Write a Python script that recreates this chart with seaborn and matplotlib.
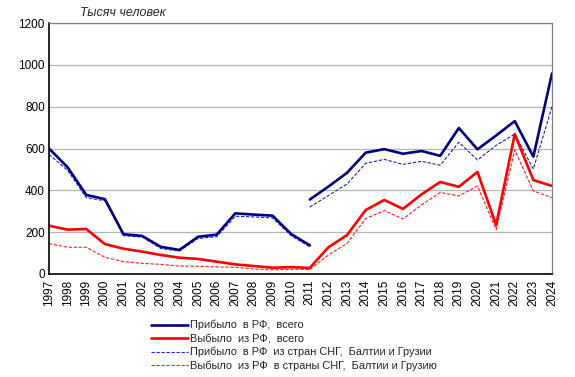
import matplotlib
matplotlib.use("Agg")

import matplotlib.pyplot as plt
import seaborn as sns
from matplotlib.lines import Line2D

# years, old methodology (to 2011) and new methodology (from 2011)
years_old = list(range(1997, 2012))
years_new = list(range(2011, 2025))

arrived_old = [600, 510, 378, 358, 190, 182, 130, 115, 178, 188, 290, 284, 279, 191, 137]
arrived_cis_old = [572, 495, 365, 350, 183, 177, 122, 110, 170, 178, 276, 273, 268, 183, 130]
left_old = [231, 212, 215, 143, 121, 107, 91, 78, 72, 59, 46, 38, 30, 33, 29]
left_cis_old = [145, 128, 128, 80, 59, 51, 46, 38, 37, 34, 32, 24, 20, 22, 22]

arrived_new = [356, 418, 484, 580, 597, 575, 588, 565, 698, 596, 662, 731, 561, 959]
arrived_cis_new = [320, 375, 430, 529, 548, 524, 539, 520, 630, 545, 615, 669, 502, 800]
left_new = [29, 128, 186, 306, 354, 311, 381, 440, 417, 488, 234, 669, 449, 421]
left_cis_new = [22, 91, 147, 265, 303, 263, 330, 390, 373, 421, 213, 593, 397, 365]

labels = [
    "Прибыло  в РФ,  всего",
    "Выбыло  из РФ,  всего",
    "Прибыло  в РФ  из стран СНГ,  Балтии и Грузии",
    "Выбыло  из РФ  в страны СНГ,  Балтии и Грузию",
]

sns.set_theme(style="white")
plt.rcParams["font.family"] = ["Liberation Sans", "DejaVu Sans"]

fig = plt.figure(figsize=(5.75, 3.77), dpi=100)
ax = fig.add_axes([49 / 575, 1 - 274 / 377, 503 / 575, 251 / 377])

styles = [
    dict(color="#000080", lw=1.9, ls="-"),
    dict(color="#ff0000", lw=1.9, ls="-"),
    dict(color="#1a1aff", lw=0.8, ls=(0, (3, 1.5))),
    dict(color="#ff2020", lw=0.8, ls=(0, (3, 1.5))),
]
old_series = [arrived_old, left_old, arrived_cis_old, left_cis_old]
new_series = [arrived_new, left_new, arrived_cis_new, left_cis_new]

for i in [2, 3, 0, 1]:
    st = styles[i]
    sns.lineplot(x=years_old, y=old_series[i], ax=ax, **st)
    new_color = "#20209a" if i == 2 else st["color"]
    sns.lineplot(x=years_new, y=new_series[i], ax=ax,
                 color=new_color, lw=st["lw"], ls=st["ls"])

handles = [Line2D([], [], **st) for st in styles]

all_years = years_old[:-1] + years_new
ax.set_xlim(1997, 2024)
ax.set_ylim(0, 1200)
ax.set_yticks(range(0, 1201, 200))
ax.set_xticks(all_years)
ax.set_xticklabels([str(y) for y in all_years], rotation=90)
ax.tick_params(axis="both", labelsize=8.5, length=0, colors="black")
ax.tick_params(axis="x", pad=4)
ax.tick_params(axis="y", pad=3)
ax.yaxis.grid(True, color="#b4b4b4", lw=0.9)
ax.set_axisbelow(True)
for side in ["left", "bottom"]:
    ax.spines[side].set_color("black")
    ax.spines[side].set_linewidth(1.2)
for side in ["top", "right"]:
    ax.spines[side].set_color("#808080")
    ax.spines[side].set_linewidth(0.9)

fig.text(80 / 575, 1 - 13 / 377, "Тысяч человек", style="italic",
         fontsize=9, va="center", ha="left")

fig.legend(handles, labels, loc="upper left",
           bbox_to_anchor=(151 / 575, 1 - 320 / 377),
           frameon=False, fontsize=7.9, handlelength=3.4, handletextpad=0.2,
           labelspacing=0.3, borderpad=0, borderaxespad=0)

fig.savefig("out.png", dpi=100, facecolor="white")
